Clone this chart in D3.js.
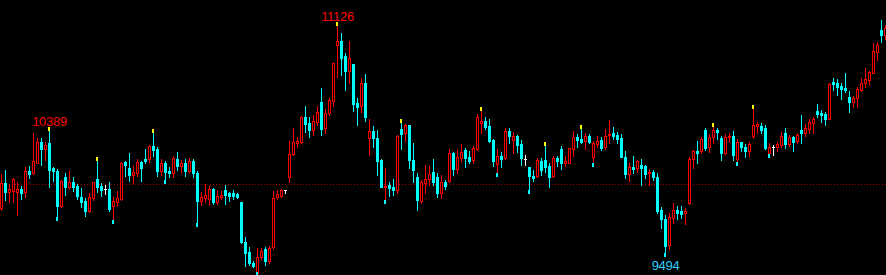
<!DOCTYPE html>
<html>
<head>
<meta charset="utf-8">
<script src="https://cdn.jsdelivr.net/npm/d3@7"></script>
<style>
  html, body { margin: 0; padding: 0; background: #000; overflow: hidden; }
  svg { display: block; }
  .label { font-family: "Liberation Sans", Arial, sans-serif; font-size: 13px; letter-spacing: -0.3px; }
</style>
</head>
<body>
<svg id="kline" width="886" height="275"></svg>
<script>
// daily bars (left to right)
var opens = [9832,10007,9944,9951,9944,9965,9944,10091,10077,10147,10294,10245,10287,10112,10091,9846,10049,9979,10014,9986,
  9909,9881,9811,9902,10035,9986,9965,9965,9846,9874,9895,10154,10112,10063,10077,10154,10175,10175,10266,10245,
  10091,10147,10091,10077,10175,10126,10147,10091,10161,10077,9881,9902,9895,9965,9874,9909,9958,9937,9937,9930,
  9874,9594,9524,9447,9377,9489,9545,9461,9559,9909,9916,9958,10049,10210,10287,10294,10469,10427,10378,10434,
  10574,10392,10497,10581,10973,11001,10896,10791,10840,10567,10546,10707,10322,10371,10322,10168,9979,9993,9979,9958,
  10385,10357,10413,10168,10049,9881,10007,10035,10084,10049,9937,10014,10021,10217,10105,10182,10238,10189,10168,10245,
  10427,10441,10406,10308,10140,10196,10182,10371,10308,10336,10280,10175,10119,10056,10056,10161,10168,10126,10056,10182,
  10245,10147,10147,10245,10329,10315,10301,10336,10189,10280,10308,10259,10343,10357,10343,10322,10189,10070,10119,10112,
  10133,10126,10077,10084,10049,9818,9755,9573,9762,9818,9811,9797,9867,10175,10231,10231,10378,10259,10329,10378,
  10322,10217,10329,10336,10175,10294,10259,10231,10336,10406,10406,10392,10217,10259,10259,10273,10357,10280,10329,10301,
  10378,10357,10385,10427,10511,10497,10490,10455,10714,10707,10686,10672,10609,10574,10602,10658,10707,10728,10777,10924,
  11078,11043];
var highs = [10070,10098,10000,10042,10014,9986,10119,10126,10357,10322,10322,10294,10389,10119,10105,10028,10077,10091,10049,10000,
  9972,9902,9937,10014,10182,10007,9993,10014,9909,9951,10154,10161,10217,10126,10175,10161,10245,10273,10378,10259,
  10175,10161,10119,10189,10224,10168,10175,10182,10175,10091,9944,10000,9986,9972,9958,9951,9993,9944,9958,9937,
  9874,9629,9559,9461,9552,9552,9559,9566,9951,9958,9965,9958,10301,10392,10329,10476,10546,10469,10483,10546,
  10672,10525,10602,10847,11126,11057,10917,11001,10840,10602,10742,10770,10455,10406,10378,10175,10112,10014,10035,10343,
  10448,10420,10413,10287,10077,10028,10133,10126,10175,10077,10063,10028,10245,10224,10238,10280,10252,10231,10266,10490,
  10532,10469,10455,10315,10245,10224,10392,10392,10364,10343,10308,10203,10119,10098,10182,10182,10287,10147,10196,10196,
  10266,10196,10252,10371,10350,10406,10357,10350,10301,10336,10329,10385,10448,10399,10364,10350,10231,10147,10196,10168,
  10175,10133,10105,10098,10077,9839,9783,9797,9867,9846,9846,9832,10189,10238,10301,10329,10392,10350,10420,10392,
  10336,10350,10357,10371,10315,10294,10280,10294,10546,10434,10427,10413,10287,10273,10294,10364,10392,10343,10336,10357,
  10483,10420,10455,10469,10560,10518,10504,10707,10742,10735,10707,10777,10651,10616,10679,10742,10812,10791,10987,10994,
  11148,11113];
var lows = [9818,9888,9874,9874,9783,9895,9909,10042,10070,10147,10133,10168,9979,10021,9748,9839,9923,9972,9951,9895,
  9839,9776,9804,9888,9944,9916,9930,9811,9727,9846,9888,10056,10021,10007,10056,10021,10147,10154,10196,10056,
  10063,10007,10049,10049,10098,10084,10056,10084,10049,9706,9853,9874,9853,9860,9860,9895,9860,9881,9895,9902,
  9587,9426,9433,9419,9363,9475,9433,9447,9545,9895,9909,9937,10014,10203,10259,10287,10364,10329,10343,10413,
  10343,10357,10483,10546,10749,10763,10658,10707,10511,10413,10504,10441,10203,10259,10063,9979,9867,9916,9923,9937,
  10245,10301,10112,10014,9818,9867,9937,9993,9993,9909,9902,9965,10014,10063,10077,10161,10119,10147,10147,10238,
  10357,10385,10294,10126,10056,10119,10175,10287,10217,10224,10133,10133,9937,10021,10049,10063,10084,9979,10049,10126,
  10105,10126,10147,10196,10259,10287,10245,10287,10126,10259,10238,10245,10287,10315,10287,10189,10042,10021,10077,10084,
  9993,10042,9993,10028,9797,9692,9494,9545,9727,9755,9762,9720,9860,10112,10147,10217,10238,10224,10287,10315,
  10168,10210,10294,10168,10133,10231,10189,10196,10322,10357,10357,10245,10189,10203,10231,10259,10252,10266,10231,10287,
  10287,10336,10357,10357,10469,10434,10413,10455,10658,10623,10595,10644,10504,10539,10539,10651,10679,10693,10777,10868,
  10994,11015];
var closes = [10007,9944,9965,10035,9965,9937,10091,10070,10161,10294,10245,10273,10098,10091,9846,10021,9979,10014,9979,9916,
  9874,9811,9909,10014,9979,9958,9965,9825,9881,9902,10147,10133,10063,10084,10154,10112,10161,10266,10238,10091,
  10147,10084,10077,10182,10126,10147,10091,10161,10077,9881,9909,9923,9965,9874,9916,9923,9923,9916,9916,9909,
  9594,9517,9447,9426,9489,9531,9461,9552,9902,9930,9958,9958,10210,10294,10301,10469,10420,10378,10441,10504,
  10385,10497,10588,10847,11001,10882,10791,10882,10560,10539,10707,10469,10371,10322,10161,9979,9986,9972,9958,10336,
  10350,10413,10168,10098,9888,10014,10035,10070,10014,9937,10014,9986,10217,10105,10189,10224,10182,10161,10252,10469,
  10441,10399,10301,10161,10196,10175,10371,10336,10336,10273,10182,10175,10056,10042,10168,10098,10119,10049,10182,10161,
  10147,10161,10252,10329,10308,10294,10336,10294,10287,10301,10252,10336,10350,10336,10315,10189,10070,10119,10105,10161,
  10112,10070,10084,10049,9811,9755,9566,9769,9818,9797,9790,9811,10175,10231,10217,10315,10252,10329,10378,10364,
  10217,10329,10336,10203,10294,10259,10231,10280,10413,10420,10378,10252,10259,10259,10280,10336,10280,10329,10294,10343,
  10357,10392,10434,10455,10490,10483,10455,10700,10700,10679,10665,10658,10574,10602,10665,10707,10735,10784,10931,10973,
  11043,11092];

// bars with a yellow tick on the high, bars with a cyan tick on the low
var highMarks = [12, 24, 38, 84, 100, 120, 136, 145, 178, 188];
var lowMarks = [14, 28, 41, 49, 64, 96, 124, 132, 148, 166, 184, 192];
// labelled extremes: bar index and which end
var labelBars = [12, 84, 166];
var labelEnds = ["high", "high", "low"];
var refLevel = 10000;

var width = 886, height = 275;
var UP = "#ff0000", DOWN = "#00ffff", FLAT = "#ffffff";

var bars = opens.map(function(o, i) {
  return {i: i, o: o, h: highs[i], l: lows[i], c: closes[i]};
});

var x = d3.scaleLinear().domain([0, bars.length - 1]).range([1, 885]);
var y = d3.scaleLinear().domain([9363, 11288]).range([275, 0]);
var px = function(i) { return Math.round(x(i)); };
var py = function(v) { return Math.round(y(v)); };

var svg = d3.select("#kline");

svg.append("rect")
  .attr("width", width)
  .attr("height", height)
  .attr("fill", "#000");

// dotted reference line
svg.append("line")
  .attr("x1", 0)
  .attr("x2", width)
  .attr("y1", py(refLevel) + 0.5)
  .attr("y2", py(refLevel) + 0.5)
  .attr("stroke", "#a00000")
  .attr("stroke-width", 1)
  .attr("stroke-dasharray", "1,2");

function colorOf(d) {
  if (d.c > d.o) return UP;
  if (d.c < d.o) return DOWN;
  return FLAT;
}

var g = svg.append("g").attr("shape-rendering", "crispEdges");

// wicks
g.selectAll("rect.wick")
  .data(bars)
 .enter().append("rect")
  .attr("class", "wick")
  .attr("x", d => px(d.i))
  .attr("y", d => py(d.h))
  .attr("width", 1)
  .attr("height", d => py(d.l) - py(d.h) + 1)
  .attr("fill", colorOf);

// bodies: down bars filled, up bars hollow
g.selectAll("rect.body")
  .data(bars)
 .enter().append("rect")
  .attr("class", "body")
  .each(function(d) {
    var top = py(Math.max(d.o, d.c))
      , bot = py(Math.min(d.o, d.c))
      , cx = px(d.i)
      , el = d3.select(this);
    if (d.c > d.o && bot - top >= 2) {
      el.attr("x", cx - 0.5)
        .attr("y", top + 0.5)
        .attr("width", 2)
        .attr("height", bot - top)
        .attr("fill", "#000")
        .attr("stroke", UP)
        .attr("stroke-width", 1)
        .attr("shape-rendering", "auto");
    } else {
      el.attr("x", cx - 1)
        .attr("y", top)
        .attr("width", 3)
        .attr("height", bot - top + 1)
        .attr("fill", colorOf(d));
    }
  });

// high / low ticks
g.selectAll("rect.hmark")
  .data(highMarks)
 .enter().append("rect")
  .attr("x", i => px(i) - 1)
  .attr("y", i => py(highs[i]) - 1)
  .attr("width", 2)
  .attr("height", 4)
  .attr("fill", "#ffff00");

g.selectAll("rect.lmark")
  .data(lowMarks)
 .enter().append("rect")
  .attr("x", i => px(i) - 1)
  .attr("y", i => py(lows[i]) - 3)
  .attr("width", 2)
  .attr("height", 4)
  .attr("fill", DOWN);

// extreme labels
svg.selectAll("text.label")
  .data(labelBars)
 .enter().append("text")
  .attr("class", "label")
  .attr("text-anchor", "middle")
  .attr("x", i => px(i) + 0.5)
  .attr("y", function(i, k) {
    return labelEnds[k] == "high" ? py(highs[i]) - 2 : py(lows[i]) + 14;
  })
  .attr("fill", (i, k) => labelEnds[k] == "high" ? "#ff0000" : "#33ccff")
  .text((i, k) => labelEnds[k] == "high" ? highs[i] : lows[i]);
</script>
</body>
</html>
